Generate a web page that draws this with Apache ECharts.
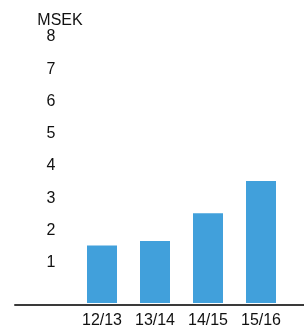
<!DOCTYPE html>
<html>
<head>
<meta charset="utf-8">
<script src="https://cdn.jsdelivr.net/npm/echarts@6/dist/echarts.min.js"></script>
<style>
  html, body { margin: 0; padding: 0; background: #fff; }
  #chart { width: 304px; height: 329px; }
</style>
</head>
<body>
<div id="chart"></div>
<script>
var seasons = ['12/13', '13/14', '14/15', '15/16'];
var msek = [1.78, 1.92, 2.78, 3.78];
var yMax = 8;

var chart = echarts.init(document.getElementById('chart'));

var textStyle = {
    fontFamily: 'Liberation Sans, Arial, sans-serif',
    fontSize: 16,
    color: '#111'
};

var option = {
    animation: false,
    grid: [
        { left: 75.5, right: 16.5, top: 45, bottom: 24 },
        { left: 15, right: 0, top: 45, bottom: 24 }
    ],
    xAxis: [{
        type: 'category',
        gridIndex: 0,
        data: seasons,
        axisLine: { show: false },
        axisTick: { show: false },
        axisLabel: Object.assign({ margin: 10 }, textStyle)
    }, {
        type: 'category',
        gridIndex: 1,
        data: [''],
        axisLine: { show: true, lineStyle: { color: '#3a3a3a', width: 2 } },
        axisTick: { show: false },
        axisLabel: { show: false }
    }],
    yAxis: [{
        type: 'value',
        gridIndex: 0,
        min: 0,
        max: yMax,
        interval: 1,
        name: 'MSEK',
        nameLocation: 'end',
        nameGap: 16,
        nameTextStyle: Object.assign({ padding: [0, 31, 0, 0] }, textStyle),
        axisLine: { show: false },
        axisTick: { show: false },
        splitLine: { show: false },
        axisLabel: Object.assign({
            margin: 20,
            verticalAlign: 'bottom',
            lineHeight: 16,
            formatter: function (v) { return v === 0 ? '' : v; }
        }, textStyle)
    }, {
        type: 'value',
        gridIndex: 1,
        show: false
    }],
    series: [{
        type: 'bar',
        xAxisIndex: 0,
        yAxisIndex: 0,
        data: msek,
        barWidth: 30,
        itemStyle: { color: '#41a0db' }
    }]
};

chart.setOption(option);
window.addEventListener('resize', chart.resize);
</script>
</body>
</html>
